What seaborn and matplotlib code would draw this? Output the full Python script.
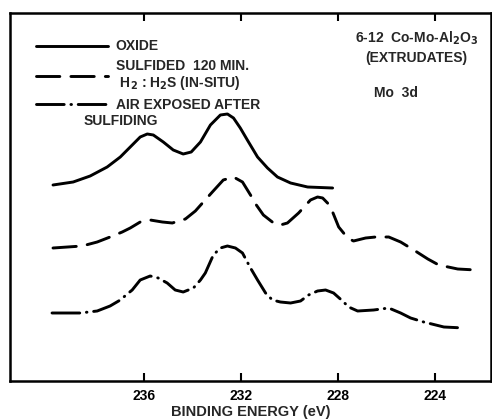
import matplotlib
matplotlib.use("Agg")
import matplotlib.pyplot as plt
import seaborn as sns
import pandas as pd

# ---- data (binding energy in eV, intensity in arbitrary offset units) ----
oxide_be = [239.73, 238.90, 238.20, 237.50, 236.96, 236.55, 236.14, 235.85, 235.60,
            235.19, 234.78, 234.37, 234.04, 233.66, 233.25, 232.84, 232.55, 232.30,
            232.02, 231.73, 231.31, 230.90, 230.49, 229.95, 229.25, 228.22]
oxide_int = [196, 199, 205, 214, 224, 234, 244, 247, 246,
             239, 231, 227, 229, 239, 256, 266, 267, 263,
             253, 241, 224, 213, 204, 198, 194, 193]

sulf_be = [239.73, 238.53, 237.91, 237.38, 236.88, 236.55, 236.14, 235.73, 235.23,
           234.82, 234.28, 233.87, 233.54, 233.17, 232.72, 232.30, 231.93, 231.60,
           231.36, 231.07, 230.65, 230.37, 230.08, 229.62, 229.13, 228.84, 228.63,
           228.43, 228.22, 227.97, 227.60, 227.36, 226.86, 226.45, 225.91, 225.42,
           224.88, 224.30, 223.85, 223.07, 222.32]
sulf_int = [133, 135, 139, 144, 149, 153, 159, 161, 159,
            158, 162, 170, 179, 189, 201, 204, 199, 186,
            176, 166, 158, 156, 158, 168, 181, 184, 183,
            178, 169, 154, 143, 140, 143, 144, 144, 139,
            131, 122, 116, 112, 111]

air_be = [239.77, 238.61, 237.91, 237.38, 236.96, 236.72, 236.47, 236.14, 235.73,
          235.40, 235.03, 234.70, 234.37, 233.95, 233.66, 233.46, 233.13, 232.84,
          232.55, 232.22, 231.93, 231.60, 231.31, 230.98, 230.70, 230.37, 229.95,
          229.54, 229.21, 228.84, 228.51, 228.18, 227.81, 227.56, 227.19, 226.53,
          225.91, 225.42, 225.01, 224.47, 223.64, 222.82]
air_int = [68, 68, 70, 75, 81, 86, 91, 101, 105,
           103, 98, 91, 89, 93, 101, 108, 126, 133,
           135, 133, 128, 113, 101, 88, 81, 79, 78,
           80, 86, 90, 91, 88, 80, 74, 70, 71,
           73, 68, 63, 59, 54, 53]

series_names = ["OXIDE",
                "SULFIDED  120 MIN.\n H$_\\mathbf{2}$ : H$_\\mathbf{2}$S (IN-SITU)",
                "AIR EXPOSED AFTER"]
tick_values = [236, 232, 228, 224]

df = pd.concat([
    pd.DataFrame({"be": oxide_be, "inten": oxide_int, "series": series_names[0]}),
    pd.DataFrame({"be": sulf_be, "inten": sulf_int, "series": series_names[1]}),
    pd.DataFrame({"be": air_be, "inten": air_int, "series": series_names[2]}),
], ignore_index=True)

sns.set_theme(style="white")
plt.rcParams['font.family'] = ['Liberation Sans', 'DejaVu Sans']
plt.rcParams['font.weight'] = 'bold'
plt.rcParams['mathtext.default'] = 'bf'

fig = plt.figure(figsize=(4.92, 4.20), dpi=100)
ax = fig.add_axes([10 / 492, 39 / 420, 481 / 492, 368 / 420])

lw = 2.1
dash_map = {series_names[0]: "",
            series_names[1]: (8.0, 3.8),
            series_names[2]: (9.5, 2.3, 0.2, 2.3)}
sns.lineplot(data=df, x="be", y="inten", style="series", dashes=dash_map,
             color="black", sort=False, estimator=None, linewidth=lw, ax=ax,
             legend=False)
for ln in ax.lines:
    ln.set_dash_capstyle("round")
    ln.set_solid_capstyle("round")
    ln.set_solid_joinstyle("round")
    ln.set_dash_joinstyle("round")

ax.set_xlim(241.5, 221.7)
ax.set_ylim(0, 368)
ax.set_xticks(tick_values)
ax.set_xticklabels([str(t) for t in tick_values], fontsize=10, fontweight='bold')
ax.set_yticks([])
ax.tick_params(axis='x', direction='in', length=6, width=1.5, top=True, bottom=True,
               labeltop=False, pad=6, colors='black')
for sp in ax.spines.values():
    sp.set_visible(True)
    sp.set_color('black')
    sp.set_linewidth(1.8)
ax.set_xlabel("BINDING ENERGY (eV)", fontsize=10.5, fontweight='bold', labelpad=1)
ax.set_ylabel("")

leg = ax.legend(handles=ax.lines[:3], labels=series_names, loc='upper left',
                bbox_to_anchor=(0.054, 0.928), frameon=False,
                handlelength=5.2, handletextpad=0.55, borderpad=0, borderaxespad=0,
                labelspacing=0.42, prop={'weight': 'bold', 'size': 10})
for t in leg.get_texts():
    t.set_linespacing(1.05)
ax.text(0.152, 0.706, "SULFIDING", transform=ax.transAxes, fontsize=10,
        fontweight='bold', va='center', ha='left')

ax.text(0.846, 0.932, "6-12  Co-Mo-Al$_\\mathbf{2}$O$_\\mathbf{3}$", transform=ax.transAxes,
        fontsize=10, fontweight='bold', ha='center', va='center')
ax.text(0.845, 0.878, "(EXTRUDATES)", transform=ax.transAxes,
        fontsize=10, fontweight='bold', ha='center', va='center')
ax.text(0.803, 0.783, "Mo  3d", transform=ax.transAxes,
        fontsize=10, fontweight='bold', ha='center', va='center')

fig.savefig("out.png", dpi=100, facecolor='white')
